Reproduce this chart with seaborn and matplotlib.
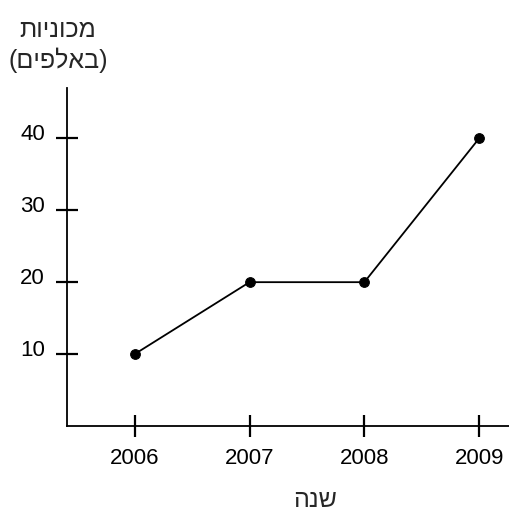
import matplotlib
matplotlib.use("Agg")
import matplotlib.pyplot as plt
import matplotlib.transforms as mtransforms
import seaborn as sns
import pandas as pd

# data
years = [2006, 2007, 2008, 2009]
cars = [10, 20, 20, 40]   # thousands
y_ticks = [10, 20, 30, 40]

# matplotlib has no bidi, so Hebrew is typed in visual (left-to-right) order
y_label_top = "תוינוכמ"      # מכוניות
y_label_bottom = "(םיפלאב)"  # (באלפים)
x_label = "הנש"             # שנה

sns.set_style("white")
plt.rcParams['font.family'] = ['Liberation Sans', 'DejaVu Sans']

df = pd.DataFrame({"year": years, "cars": cars})

fig = plt.figure(figsize=(5.09, 5.12), dpi=100)
ax = fig.add_axes([67 / 509, 86 / 512, 442 / 509, 338 / 512])

sns.lineplot(data=df, x="year", y="cars", ax=ax, color="black", linewidth=1.3,
             marker="o", markersize=7, markeredgecolor="black")

ax.set_xlim(2005.41, 2009.26)
ax.set_ylim(0, 47)
ax.set_xticks(years)
ax.set_xticklabels([str(y) for y in years])
ax.set_yticks(y_ticks)
ax.set_yticklabels([str(v) for v in y_ticks])
ax.set_xlabel("")
ax.set_ylabel("")

for s in ["top", "right"]:
    ax.spines[s].set_visible(False)
for s in ["left", "bottom"]:
    ax.spines[s].set_color("black")
    ax.spines[s].set_linewidth(1.3)

ax.tick_params(axis="both", direction="inout", length=16, width=1.6,
               colors="black", labelsize=16, bottom=True, left=True)
ax.tick_params(axis="x", pad=8)
ax.tick_params(axis="y", pad=8)

# y labels sit a little above their ticks in the original
offset = mtransforms.ScaledTranslation(0, 6 / 100, fig.dpi_scale_trans)
for lab in ax.get_yticklabels():
    lab.set_transform(lab.get_transform() + offset)

fig.text(58 / 509, 1 - 30 / 512, y_label_top, ha="center", va="center", fontsize=18)
fig.text(58 / 509, 1 - 60 / 512, y_label_bottom, ha="center", va="center", fontsize=18)
fig.text(315 / 509, 1 - 500 / 512, x_label, ha="center", va="center", fontsize=18)

fig.savefig("out.png", dpi=100)
